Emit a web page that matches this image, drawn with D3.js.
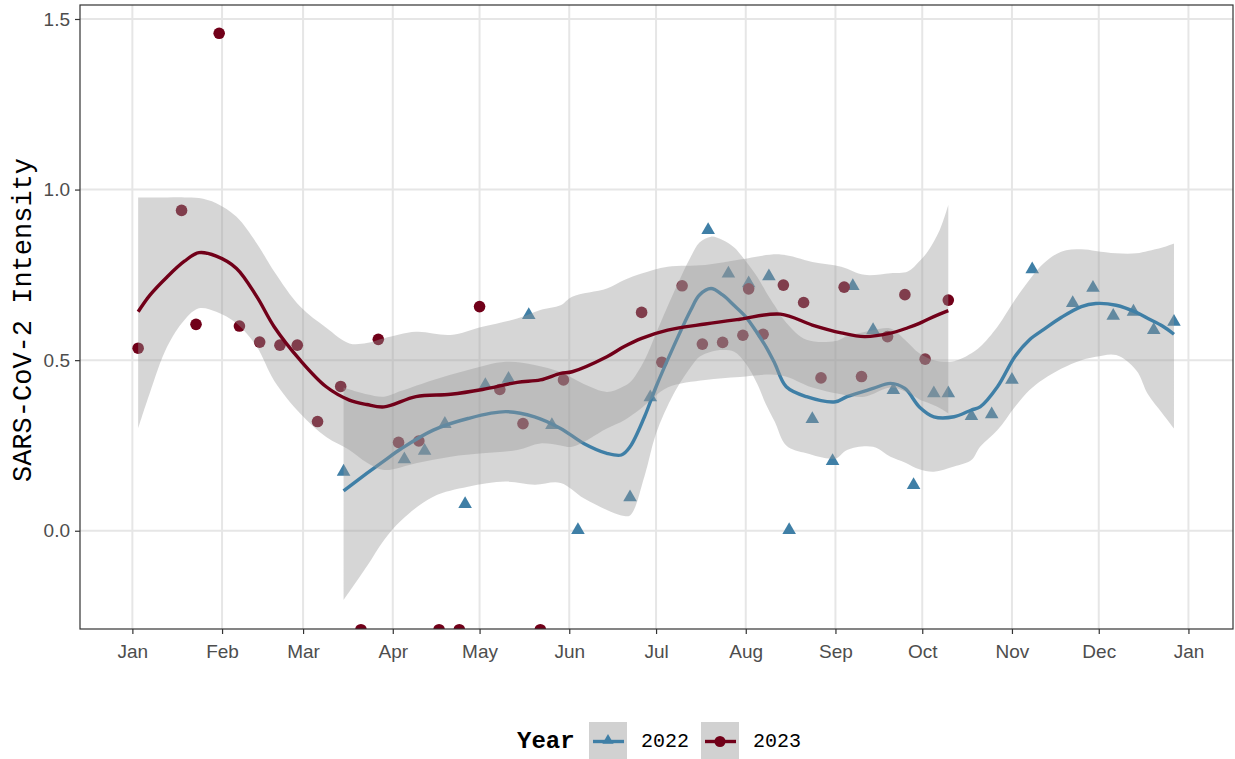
<!DOCTYPE html>
<html>
<head>
<meta charset="utf-8">
<script src="https://cdn.jsdelivr.net/npm/d3@7"></script>
<style>
  body { margin: 0; background: #fff; }
  svg { display: block; }
</style>
</head>
<body>
<div id="chart"></div>
<script>
// Wochenwerte, Tag im Jahr (0 = 1. Jan)
const days2022 = [73, 94, 101, 108, 115, 122, 130, 137, 145, 154, 172, 179, 199, 206, 213, 220, 227, 235,
  242, 249, 256, 263, 270, 277, 282, 290, 297, 304, 311, 325, 332, 339, 346, 353, 360];
const vals2022 = [0.173, 0.209, 0.234, 0.313, 0.078, 0.427, 0.445, 0.632, 0.310, 0.002, 0.098, 0.391, 0.881,
  0.754, 0.725, 0.746, 0.002, 0.327, 0.204, 0.717, 0.588, 0.412, 0.134, 0.403, 0.403, 0.336, 0.341, 0.442,
  0.766, 0.667, 0.712, 0.630, 0.642, 0.588, 0.612];

const days2023 = [2, 17, 22, 30, 37, 44, 51, 57, 64, 72, 79, 85, 92, 99, 106, 113, 120, 127, 135, 141, 149,
  176, 183, 190, 197, 204, 211, 213, 218, 225, 232, 238, 246, 252, 261, 267, 274, 282];
const vals2023 = [0.535, 0.939, 0.605, 1.458, 0.600, 0.553, 0.544, 0.544, 0.320, 0.423, -0.29, 0.561, 0.259,
  0.263, -0.29, -0.29, 0.657, 0.414, 0.314, -0.29, 0.442, 0.640, 0.494, 0.718, 0.547, 0.552, 0.573, 0.709,
  0.576, 0.720, 0.669, 0.448, 0.714, 0.452, 0.569, 0.692, 0.503, 0.676];

// Glättung (loess)
const fitDays2022 = [73, 81, 87, 93, 104, 116, 129, 139, 148, 156, 164, 169, 172, 177, 181, 187, 193, 196, 200,
  204, 208, 212, 216, 219, 222, 226, 233, 243, 247, 256, 262, 267, 272, 277, 284, 290, 293, 299, 305, 310,
  315, 321, 328, 333, 340, 347, 351, 356, 360];
const fit2022 = [0.117, 0.168, 0.205, 0.241, 0.295, 0.329, 0.349, 0.334, 0.300, 0.256, 0.227, 0.222, 0.246,
  0.334, 0.422, 0.539, 0.647, 0.691, 0.710, 0.691, 0.660, 0.627, 0.579, 0.539, 0.491, 0.422, 0.393, 0.378,
  0.393, 0.417, 0.432, 0.417, 0.363, 0.334, 0.334, 0.354, 0.363, 0.422, 0.510, 0.559, 0.590, 0.625, 0.657,
  0.666, 0.661, 0.640, 0.622, 0.600, 0.576];
const lo2022 = [-0.203, -0.105, -0.027, 0.031, 0.100, 0.129, 0.144, 0.135, 0.140, 0.095, 0.061, 0.045, 0.045,
  0.160, 0.285, 0.400, 0.480, 0.510, 0.525, 0.530, 0.525, 0.490, 0.430, 0.370, 0.320, 0.250, 0.227, 0.212,
  0.237, 0.246, 0.217, 0.200, 0.180, 0.173, 0.188, 0.207, 0.246, 0.295, 0.363, 0.412, 0.445, 0.475, 0.500,
  0.510, 0.515, 0.470, 0.400, 0.344, 0.300];
const hi2022 = [0.420, 0.400, 0.393, 0.410, 0.442, 0.471, 0.495, 0.486, 0.465, 0.430, 0.407, 0.420, 0.435,
  0.500, 0.579, 0.696, 0.803, 0.845, 0.862, 0.852, 0.830, 0.790, 0.744, 0.700, 0.660, 0.610, 0.560, 0.556,
  0.570, 0.588, 0.593, 0.560, 0.520, 0.500, 0.497, 0.520, 0.539, 0.598, 0.676, 0.735, 0.784, 0.818, 0.825,
  0.820, 0.813, 0.813, 0.820, 0.830, 0.842];

const fitDays2023 = [2, 6, 12, 18, 23, 29, 36, 43, 49, 58, 67, 75, 81, 87, 98, 110, 121, 133, 141, 148, 152,
  164, 170, 176, 185, 198, 210, 224, 235, 245, 253, 262, 268, 272, 275, 279, 282];
const fit2023 = [0.642, 0.690, 0.744, 0.790, 0.815, 0.805, 0.769, 0.686, 0.598, 0.500, 0.422, 0.383, 0.370,
  0.363, 0.393, 0.400, 0.414, 0.435, 0.442, 0.461, 0.466, 0.510, 0.540, 0.564, 0.588, 0.606, 0.620, 0.635,
  0.603, 0.580, 0.569, 0.579, 0.595, 0.608, 0.620, 0.635, 0.645];
const lo2023 = [0.300, 0.403, 0.539, 0.618, 0.652, 0.642, 0.608, 0.539, 0.440, 0.344, 0.275, 0.237, 0.200,
  0.178, 0.198, 0.217, 0.227, 0.237, 0.256, 0.250, 0.246, 0.300, 0.324, 0.360, 0.420, 0.442, 0.451, 0.456,
  0.420, 0.400, 0.393, 0.420, 0.405, 0.385, 0.375, 0.360, 0.344];
const hi2023 = [0.977, 0.977, 0.977, 0.977, 0.975, 0.960, 0.920, 0.842, 0.760, 0.657, 0.595, 0.549, 0.550,
  0.564, 0.583, 0.574, 0.598, 0.622, 0.647, 0.661, 0.686, 0.710, 0.735, 0.754, 0.774, 0.779, 0.795, 0.810,
  0.788, 0.774, 0.750, 0.755, 0.760, 0.790, 0.820, 0.881, 0.955];

const yTicks = [0, 0.5, 1.0, 1.5];
const years = ["2022", "2023"];
const colors = { "2022": "#3f7fa6", "2023": "#710019" };

const W = 1235, H = 759;
const panel = { left: 80, right: 1233, top: 5, bottom: 629 };

const doy = d => new Date(Date.UTC(2023, 0, 1) + d * 864e5);

const x = d3.scaleUtc()
  .domain([doy(-18.1), doy(380.4)])
  .range([panel.left, panel.right]);
const y = d3.scaleLinear()
  .domain([-0.288, 1.541])
  .range([panel.bottom, panel.top]);

const monthTicks = d3.utcMonth.range(doy(0), doy(366));

const svg = d3.select("#chart").append("svg")
  .attr("width", W)
  .attr("height", H);

svg.append("defs").append("clipPath").attr("id", "clip")
  .append("rect")
  .attr("x", panel.left).attr("y", panel.top)
  .attr("width", panel.right - panel.left)
  .attr("height", panel.bottom - panel.top);

// Gitterlinien
const grid = svg.append("g");
grid.selectAll("line.v").data(monthTicks).join("line")
  .attr("x1", d => x(d)).attr("x2", d => x(d))
  .attr("y1", panel.top).attr("y2", panel.bottom)
  .attr("stroke", "#e6e6e6").attr("stroke-width", 2);
grid.selectAll("line.h").data(yTicks).join("line")
  .attr("x1", panel.left).attr("x2", panel.right)
  .attr("y1", d => y(d)).attr("y2", d => y(d))
  .attr("stroke", "#e6e6e6").attr("stroke-width", 2);

const plot = svg.append("g").attr("clip-path", "url(#clip)");

// Punkte
plot.selectAll("path.tri").data(days2022).join("path")
  .attr("d", d3.symbol().type(d3.symbolTriangle).size(80))
  .attr("transform", (d, i) => `translate(${x(doy(d))},${y(vals2022[i])})`)
  .attr("fill", colors["2022"]);

plot.selectAll("circle.pt").data(days2023).join("circle")
  .attr("cx", d => x(doy(d)))
  .attr("cy", (d, i) => y(vals2023[i]))
  .attr("r", 5.8)
  .attr("fill", colors["2023"]);

// Glättung: Band + Linie je Jahr
const smooth = {
  "2022": { days: fitDays2022, fit: fit2022, lo: lo2022, hi: hi2022 },
  "2023": { days: fitDays2023, fit: fit2023, lo: lo2023, hi: hi2023 }
};

years.forEach(yr => {
  const s = smooth[yr];
  const rows = s.days.map((d, i) => ({ d: doy(d), fit: s.fit[i], lo: s.lo[i], hi: s.hi[i] }));

  plot.append("path")
    .datum(rows)
    .attr("d", d3.area()
      .curve(d3.curveCatmullRom)
      .x(r => x(r.d))
      .y0(r => y(r.lo))
      .y1(r => y(r.hi)))
    .attr("fill", "#999999")
    .attr("fill-opacity", 0.4);

  plot.append("path")
    .datum(rows)
    .attr("d", d3.line()
      .curve(d3.curveCatmullRom)
      .x(r => x(r.d))
      .y(r => y(r.fit)))
    .attr("fill", "none")
    .attr("stroke", colors[yr])
    .attr("stroke-width", 3.4);
});

// Rahmen
svg.append("rect")
  .attr("x", panel.left).attr("y", panel.top)
  .attr("width", panel.right - panel.left)
  .attr("height", panel.bottom - panel.top)
  .attr("fill", "none")
  .attr("stroke", "#333")
  .attr("stroke-width", 1.2);

// Achsen
const sans = "'Liberation Sans', Arial, Helvetica, sans-serif";
const mono = "'Liberation Mono', 'Courier New', monospace";

const xAxis = svg.append("g")
  .attr("transform", `translate(0,${panel.bottom})`)
  .call(d3.axisBottom(x).tickValues(monthTicks).tickFormat(d3.utcFormat("%b")).tickSize(5).tickPadding(6));
const yAxis = svg.append("g")
  .attr("transform", `translate(${panel.left},0)`)
  .call(d3.axisLeft(y).tickValues(yTicks).tickFormat(d3.format(".1f")).tickSize(5).tickPadding(5));

[xAxis, yAxis].forEach(ax => {
  ax.select(".domain").remove();
  ax.selectAll(".tick line").attr("stroke", "#333").attr("stroke-width", 1.2);
  ax.selectAll(".tick text")
    .attr("fill", "#4d4d4d")
    .style("font-family", sans)
    .style("font-size", "19px");
});
xAxis.selectAll(".tick text").attr("dy", "0.95em");

svg.append("text")
  .attr("transform", `translate(31,${(panel.top + panel.bottom) / 2 + 3}) rotate(-90)`)
  .attr("text-anchor", "middle")
  .style("font-family", mono)
  .style("font-size", "27px")
  .attr("fill", "#000")
  .text("SARS-CoV-2 Intensity");

// Legende
const legend = svg.append("g");
legend.append("text")
  .attr("x", 517).attr("y", 747.5)
  .style("font-family", mono)
  .style("font-size", "24px")
  .style("font-weight", "bold")
  .text("Year");

const keyX = [589, 701];
years.forEach((yr, i) => {
  const g = legend.append("g").attr("transform", `translate(${keyX[i]},722)`);
  g.append("rect")
    .attr("width", 38).attr("height", 38)
    .attr("fill", "#999999").attr("fill-opacity", 0.45);
  if (yr === "2022") {
    g.append("path")
      .attr("d", d3.symbol().type(d3.symbolTriangle).size(55))
      .attr("transform", "translate(19,18.5)")
      .attr("fill", colors[yr]);
  } else {
    g.append("circle").attr("cx", 19).attr("cy", 19.5).attr("r", 5.5).attr("fill", colors[yr]);
  }
  g.append("line")
    .attr("x1", 4).attr("x2", 35)
    .attr("y1", 19.5).attr("y2", 19.5)
    .attr("stroke", colors[yr]).attr("stroke-width", 3.4);
  g.append("text")
    .attr("x", 52).attr("y", 24.7)
    .style("font-family", mono)
    .style("font-size", "20px")
    .text(yr);
});
</script>
</body>
</html>
